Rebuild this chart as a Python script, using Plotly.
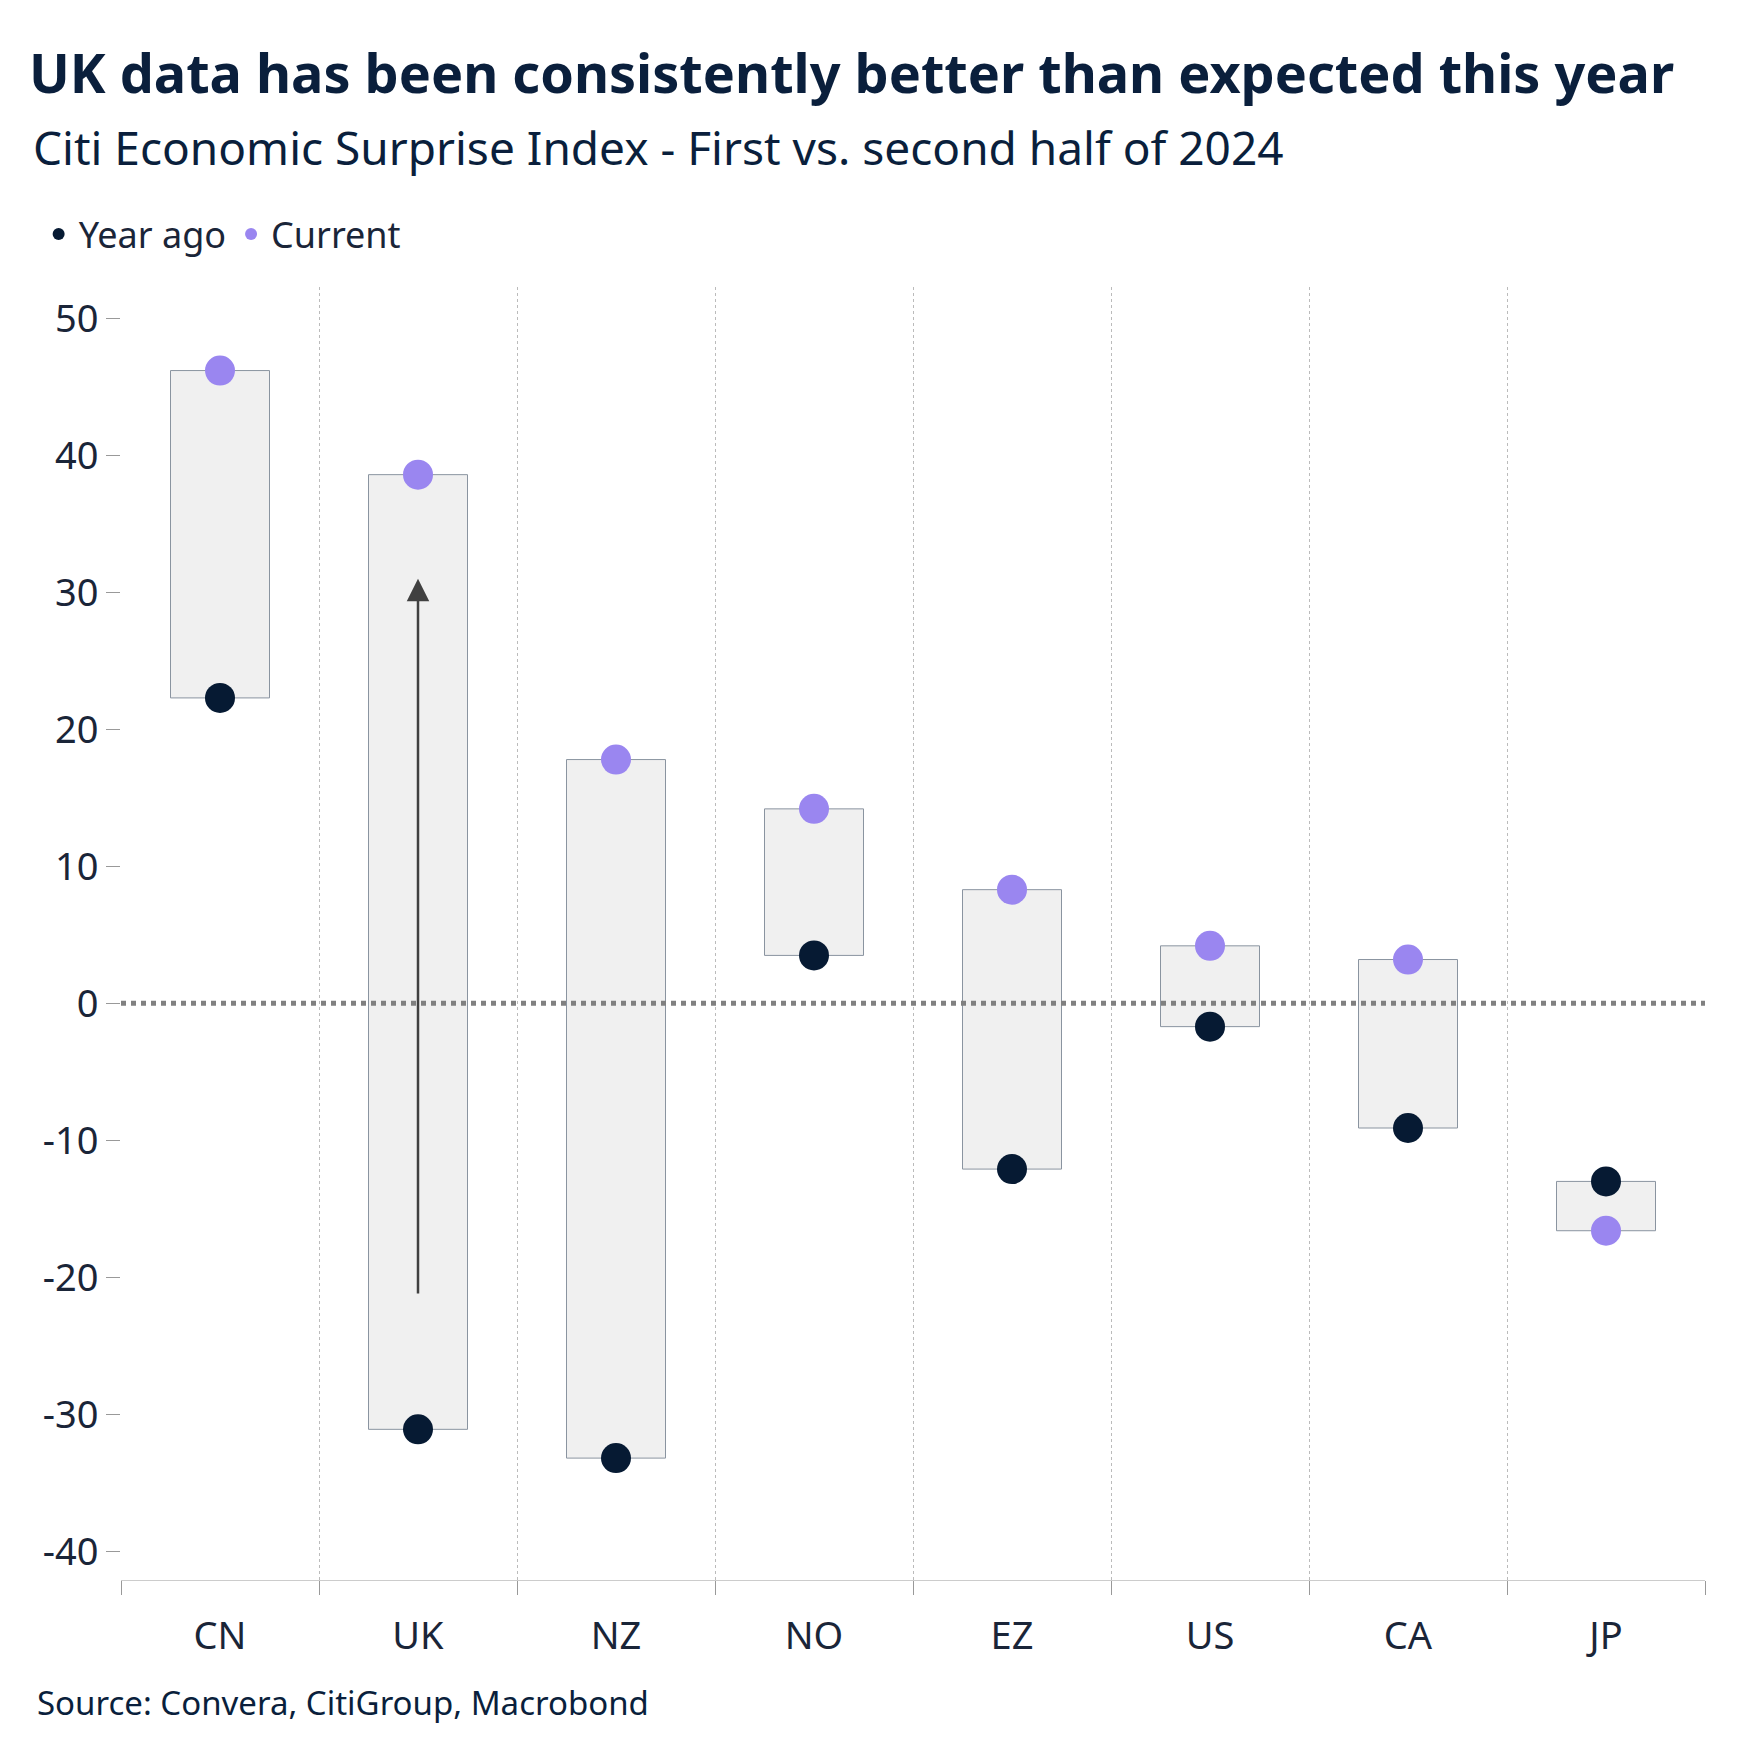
import plotly.graph_objects as go

countries = ["CN", "UK", "NZ", "NO", "EZ", "US", "CA", "JP"]
current = [46.2, 38.6, 17.8, 14.2, 8.3, 4.2, 3.2, -16.6]
year_ago = [22.3, -31.1, -33.2, 3.5, -12.1, -1.7, -9.1, -13.0]
ytick_vals = [-40, -30, -20, -10, 0, 10, 20, 30, 40, 50]
ytick_text = ["-40", "-30", "-20", "-10", "0", "10", "20", "30", "40", "50"]
arrow_from = -21.3
arrow_to = 31.0

xs = list(range(len(countries)))
lo = [min(a, b) for a, b in zip(current, year_ago)]
hi = [max(a, b) for a, b in zip(current, year_ago)]

fig = go.Figure()
fig.add_trace(go.Bar(x=xs, y=[h - l for h, l in zip(hi, lo)], base=lo, width=0.5,
                     marker=dict(color="#f0f0f0", line=dict(color="#8a94a0", width=1)),
                     showlegend=False, hoverinfo="skip"))
fig.add_trace(go.Scatter(x=xs, y=year_ago, mode="markers", name="Year ago",
                         marker=dict(size=30, color="#061a33")))
fig.add_trace(go.Scatter(x=xs, y=current, mode="markers", name="Current",
                         marker=dict(size=30, color="#9a86f0")))

fig.add_shape(type="line", xref="paper", x0=0, x1=1, y0=0, y1=0,
              line=dict(color="#808080", width=5, dash="dot"))
fig.add_annotation(x=1, y=arrow_to, ax=1, ay=arrow_from, xref="x", yref="y", axref="x", ayref="y",
                   showarrow=True, arrowhead=2, arrowsize=1.8, arrowwidth=2.5, arrowcolor="#404040", text="")

fig.update_layout(
    width=1746, height=1749, plot_bgcolor="white", paper_bgcolor="white",
    margin=dict(l=113, r=49, t=279, b=177),
    font=dict(family="Noto Sans", color="#1a2538", size=36),
    title=dict(text="<b>UK data has been consistently better than expected this year</b>",
               x=0.012, xanchor="left", y=0.962, yanchor="middle",
               font=dict(size=54, color="#0a1f3c")),
    legend=dict(orientation="h", x=-0.052, y=1.041, xanchor="left", yanchor="middle",
                font=dict(size=36), itemsizing="constant"),
    bargap=0.5,
)
fig.add_annotation(text="Citi Economic Surprise Index - First vs. second half of 2024",
                   xref="paper", yref="paper", x=-0.057, y=1.108, xanchor="left", yanchor="middle",
                   showarrow=False, font=dict(size=46, color="#0a1f3c"))
fig.add_annotation(text="Source: Convera, CitiGroup, Macrobond",
                   xref="paper", yref="paper", x=-0.054, y=-0.095, xanchor="left", yanchor="middle",
                   showarrow=False, font=dict(size=33, color="#0a1f3c"))

fig.update_xaxes(range=[-0.5, 7.5], tickvals=xs, ticktext=countries, ticks="",
                 showgrid=False, zeroline=False, showline=True, linecolor="#cccccc",
                 ticklabelstandoff=22, tickfont=dict(size=38),
                 minor=dict(tick0=-0.5, dtick=1, ticks="outside", ticklen=14, tickcolor="#999999",
                            showgrid=True, gridcolor="#bbbbbb", griddash="dot", gridwidth=1))
fig.update_yaxes(range=[-42.1, 52.3], tickvals=ytick_vals, ticktext=ytick_text, ticks="outside",
                 ticklen=14, tickcolor="#999999", tickfont=dict(size=38),
                 showgrid=False, zeroline=False, showline=False)

fig.write_html("out.html")
